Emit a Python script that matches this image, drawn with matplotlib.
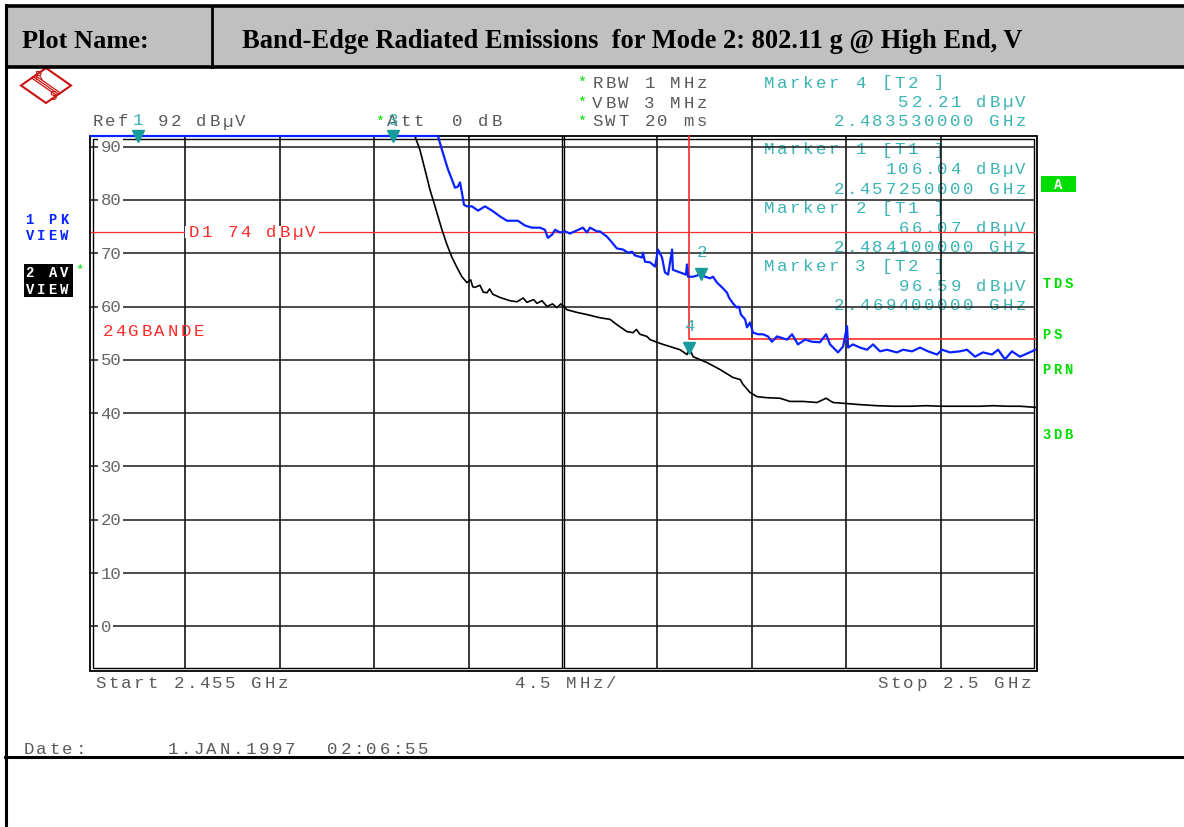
import matplotlib
matplotlib.use("Agg")
import matplotlib.pyplot as plt
from matplotlib.patches import Rectangle, Polygon
import numpy as np

# ---------------- data ----------------
start_mhz, stop_mhz = 2455.0, 2500.0
ref_level = 92.0
y_bottom = -8.0
grid_levels = [0, 10, 20, 30, 40, 50, 60, 70, 80, 90]

# trace 1: max-peak (displayed levels, clipped at the reference level)
pk_freq = [2455.00, 2471.54, 2471.73, 2471.87, 2472.02, 2472.21, 2472.35, 2472.49, 2472.59,
           2472.68, 2472.78, 2472.92, 2473.16, 2473.45, 2473.78, 2474.12, 2474.50, 2474.83,
           2475.07, 2475.35, 2475.69, 2476.02, 2476.40, 2476.64, 2476.78, 2476.98, 2477.12,
           2477.36, 2477.60, 2477.83, 2478.17, 2478.45, 2478.64, 2478.79, 2479.12, 2479.26,
           2479.60, 2479.84, 2480.07, 2480.36, 2480.60, 2480.79, 2480.93, 2481.27, 2481.31,
           2481.41, 2481.65, 2481.89, 2482.03, 2482.22, 2482.36, 2482.51, 2482.70, 2482.74,
           2483.08, 2483.36, 2483.41, 2483.46, 2483.70, 2484.10, 2484.27, 2484.51, 2484.65,
           2484.84, 2485.08, 2485.32, 2485.41, 2485.60, 2485.79, 2485.89, 2485.98, 2486.18,
           2486.27, 2486.41, 2486.56, 2486.80, 2487.03, 2487.27, 2487.46, 2487.70, 2488.18,
           2488.42, 2488.70, 2489.04, 2489.37, 2489.75, 2490.04, 2490.23, 2490.61, 2490.85,
           2491.04, 2491.09, 2491.32, 2491.66, 2491.99, 2492.28, 2492.61, 2492.94, 2493.42,
           2493.71, 2494.14, 2494.52, 2494.90, 2495.33, 2495.57, 2495.95, 2496.42, 2496.76,
           2497.14, 2497.52, 2497.95, 2498.24, 2498.57, 2498.90, 2499.28, 2499.86, 2500.00]
pk_level = [92.0, 92.0, 89.4, 87.6, 85.7, 83.8, 82.3, 82.5, 83.3,
            81.4, 79.1, 78.8, 78.8, 78.0, 78.8, 78.0, 76.9, 76.1,
            76.1, 76.1, 75.2, 74.8, 74.8, 74.4, 72.9, 73.5, 74.4,
            73.9, 74.1, 73.7, 74.3, 74.8, 73.9, 74.8, 74.1, 74.1,
            73.1, 72.0, 70.9, 70.7, 70.1, 70.3, 69.6, 69.2, 70.1,
            68.4, 68.3, 67.5, 70.7, 69.2, 66.4, 66.0, 70.7, 66.9,
            66.4, 66.0, 67.9, 65.6, 65.6, 66.07, 65.6, 65.3, 65.6,
            64.5, 63.6, 62.6, 61.7, 60.6, 59.8, 60.0, 58.5, 57.6,
            56.1, 57.0, 55.1, 54.8, 54.8, 54.4, 53.4, 54.4, 53.8,
            54.8, 52.9, 53.8, 53.4, 53.3, 54.8, 52.9, 51.4, 52.5,
            56.3, 52.3, 52.9, 52.3, 51.9, 52.9, 51.6, 51.9, 51.4,
            51.9, 51.6, 52.3, 51.6, 51.0, 51.9, 51.4, 51.6, 51.9,
            50.6, 51.4, 51.0, 51.9, 50.1, 51.6, 50.6, 51.6, 51.9]

# trace 2: average
av_freq = [2455.00, 2470.44, 2470.68, 2470.92, 2471.16, 2471.30, 2471.49, 2471.73, 2471.97,
           2472.21, 2472.45, 2472.68, 2472.92, 2473.10, 2473.20, 2473.30, 2473.54, 2473.70,
           2473.88, 2474.00, 2474.16, 2474.50, 2474.97, 2475.31, 2475.60, 2475.78, 2476.10,
           2476.26, 2476.50, 2476.74, 2477.00, 2477.21, 2477.40, 2477.69, 2478.17, 2478.64,
           2479.26, 2479.74, 2480.07, 2480.55, 2480.84, 2481.00, 2481.17, 2481.50, 2481.65,
           2481.98, 2482.27, 2482.60, 2483.08, 2483.41, 2483.53, 2483.70, 2484.36, 2484.98,
           2485.60, 2485.95, 2486.08, 2486.41, 2486.75, 2487.22, 2487.84, 2488.32, 2488.94,
           2489.61, 2490.04, 2490.37, 2491.04, 2491.66, 2492.47, 2493.23, 2494.04, 2494.85,
           2495.47, 2496.09, 2496.76, 2497.38, 2498.00, 2498.67, 2499.28, 2500.00]
av_level = [92.0, 92.0, 89.4, 85.7, 81.9, 80.1, 77.6, 74.4, 71.6,
            69.2, 67.3, 65.6, 64.5, 65.0, 63.7, 63.6, 64.0, 62.7,
            62.6, 63.3, 62.3, 61.7, 61.1, 60.9, 61.6, 60.8, 61.3,
            60.6, 61.1, 60.0, 60.5, 59.8, 60.5, 59.4, 58.9, 58.5,
            57.9, 57.6, 56.6, 55.3, 55.1, 55.7, 54.8, 54.4, 53.8,
            53.3, 52.9, 52.5, 51.9, 51.0, 52.21, 50.6, 49.5, 48.2,
            46.7, 46.3, 45.4, 43.9, 43.1, 42.9, 42.8, 42.2, 42.2,
            42.0, 42.8, 42.0, 41.8, 41.6, 41.4, 41.3, 41.3, 41.4,
            41.3, 41.3, 41.3, 41.3, 41.4, 41.3, 41.3, 41.1]

# markers: (number, trace, frequency GHz, level dBuV)
marker_ids = [1, 2, 3, 4]
marker_trace = ["T1", "T1", "T2", "T2"]
marker_freq_ghz = [2.45725, 2.48410, 2.46940, 2.48353]
marker_level = [106.04, 66.07, 96.59, 52.21]

display_line_d1 = 74.0
limit_freq = [2483.5, 2483.5, 2500.0]
limit_level = [92.0, 54.0, 54.0]

# ---------------- styling ----------------
GRAY = "#5a5a5a"
TEAL = "#3cb4b4"
TEAL_DARK = "#179b9b"
RED = "#ff2a2a"
GREEN = "#00dd00"
BLUE = "#0a22ff"
MONO = "Liberation Mono"
FS = 12.5

W, H = 1184, 828
fig = plt.figure(figsize=(W / 100, H / 100), dpi=100)
fig.patch.set_facecolor("white")

# overlay in pixel coordinates (origin top-left)
ov = fig.add_axes([0, 0, 1, 1], zorder=0)
ov.set_xlim(0, W)
ov.set_ylim(H, 0)
ov.axis("off")


def mono(x, y, s, color=GRAY, pitch=13.0, size=FS, weight="normal", ax=ov, **kw):
    """Fixed-pitch text, one glyph per cell, starting at pixel x."""
    for i, ch in enumerate(s):
        if ch == " ":
            continue
        ax.text(x + pitch * i + pitch / 2, y, ch, ha="center", va="center",
                fontsize=size, family=MONO, color=color, weight=weight, **kw)


# header row
ov.add_patch(Rectangle((5, 7), W - 5, 61, facecolor="#c0c0c0", edgecolor="none"))
ov.plot([5, W], [7, 7], color="black", lw=2.6, solid_capstyle="butt")
ov.plot([5, W], [68, 68], color="black", lw=2.6, solid_capstyle="butt")
ov.plot([212, 212], [7, 68], color="black", lw=2.0)
ov.plot([5.5, 5.5], [6, H], color="black", lw=2.2)
ov.plot([5, W], [758, 758], color="black", lw=2.2)
ov.text(22, 41, "Plot Name:", fontsize=19, family="Liberation Serif", weight="bold",
        ha="left", va="center")
ov.text(242, 41, "Band-Edge Radiated Emissions  for Mode 2: 802.11 g @ High End, V",
        fontsize=19.1, family="Liberation Serif", weight="bold", ha="left", va="center")

# R&S logo
LOGO = "#cc1111"
ov.add_patch(Polygon([(21, 86.5), (46, 69), (71, 86.5), (46, 104)], closed=True,
                     facecolor="white", edgecolor=LOGO, lw=1.5))
for off in (-1.8, 0, 1.8):
    ov.plot([33.5 + off, 58.5 + off], [77.75 - off * 0.7, 95.25 - off * 0.7], color=LOGO, lw=0.9)
ov.text(38.5, 76.5, "R", fontsize=8.5, color=LOGO, ha="center", va="center", family="DejaVu Sans")
ov.text(53, 96.5, "S", fontsize=8.5, color=LOGO, ha="center", va="center", family="DejaVu Sans")

# instrument settings
mono(91, 122, "Ref  92 dBµV")
mono(373, 122, "*", color=GREEN, size=11)
mono(386, 122, "Att  0 dB")
for yy, s in zip((83, 103, 122), ("RBW 1 MHz", "VBW 3 MHz", "SWT 20 ms")):
    mono(575, yy, "*", color=GREEN, size=11)
    mono(591, yy, s)

# marker readouts
readout_rows = [(83, 4), (150, 1), (209, 2), (267, 3)]
for y0, mid in readout_rows:
    i = marker_ids.index(mid)
    mono(763, y0, f"Marker {mid} [{marker_trace[i]} ]", color=TEAL)
    lev = f"{marker_level[i]:.2f} dBµV"
    mono(1027 - 13 * len(lev), y0 + 19.5, lev, color=TEAL)
    fr = f"{marker_freq_ghz[i]:.9f} GHz"
    mono(1027 - 13 * len(fr), y0 + 39, fr, color=TEAL)

# trace labels on the left
mono(24, 220, "1 PK", color=BLUE, pitch=11.5, size=10, weight="bold")
mono(24, 236, "VIEW", color=BLUE, pitch=11.5, size=10, weight="bold")
ov.add_patch(Rectangle((24, 265), 49, 33, facecolor="black", edgecolor="none"))
mono(24, 273, "2 AV", color="white", pitch=11.5, size=10, weight="bold")
mono(24, 290, "VIEW", color="white", pitch=11.5, size=10, weight="bold")
mono(74, 271, "*", color=GREEN, pitch=11.5, size=10)

# status labels on the right
ov.add_patch(Rectangle((1041, 177), 35, 16, facecolor=GREEN, edgecolor="none"))
ov.text(1058.5, 185, "A", color="white", fontsize=10, weight="bold", family=MONO,
        ha="center", va="center")
for yy, s in ((284, "TDS"), (335, "PS"), (370, "PRN"), (435, "3DB")):
    mono(1041, yy, s, color=GREEN, pitch=11, size=10, weight="bold")

# frequency axis annotations and date
mono(94, 684, "Start 2.455 GHz")
mono(513, 684, "4.5 MHz/")
mono(876, 684, "Stop 2.5 GHz")
mono(22, 750, "Date:")
mono(166, 750, "1.JAN.1997")
mono(326, 750, "02:06:55")

# double frame around the screen
ov.add_patch(Rectangle((89.5, 136.5), 947, 535, fill=False, edgecolor="black", lw=1.3))
ov.add_patch(Rectangle((92.5, 139.5), 941, 529, fill=False, edgecolor="black", lw=1.0))

# ---------------- spectrum axes ----------------
ax = fig.add_axes([91 / W, (H - 670) / H, 944 / W, 533 / H], zorder=1)
ax.patch.set_alpha(0)
ax.set_xlim(start_mhz, stop_mhz)
ax.set_ylim(y_bottom, ref_level)
for sp in ax.spines.values():
    sp.set_visible(False)
ax.set_xticks([])
ax.set_yticks([])

div = (stop_mhz - start_mhz) / 10
px_mhz = (stop_mhz - start_mhz) / 944
for k in range(1, 10):
    f = start_mhz + k * div
    if k == 5:
        for d in (-1.4, 1.4):
            ax.axvline(f + d * px_mhz, color="black", lw=1.0, zorder=1)
    else:
        ax.axvline(f, color="black", lw=1.1, zorder=1)
for lv in grid_levels:
    ax.axhline(lv, color="#1a1a1a", lw=1.1, zorder=1)
    ax.text(start_mhz + 9.5 * px_mhz, lv, str(lv), ha="left", va="center", fontsize=FS,
            family=MONO, color="#666666", zorder=2,
            bbox=dict(facecolor="white", edgecolor="none", pad=1.5))

# display line D1 and limit line
ax.axhline(display_line_d1, color=RED, lw=0.9, zorder=2)
d1_label = f"D1 {display_line_d1:.0f} dBµV"
x0 = start_mhz + 96 * px_mhz
ax.add_patch(Rectangle((x0 - 2 * px_mhz, display_line_d1 - 1.2), (13 * len(d1_label) + 4) * px_mhz,
                       2.4, facecolor="white", edgecolor="none", zorder=2.5))
for i, ch in enumerate(d1_label):
    if ch != " ":
        ax.text(x0 + (13 * i + 6.5) * px_mhz, display_line_d1, ch, ha="center", va="center",
                fontsize=FS, family=MONO, color=RED, zorder=3)
ax.plot(limit_freq, limit_level, color=RED, lw=1.2, zorder=3, clip_on=False)
label = "24GBANDE"
for i, ch in enumerate(label):
    ax.text(start_mhz + (10 + 13 * i + 6.5) * px_mhz, 55.5, ch, ha="center", va="center",
            fontsize=FS, family=MONO, color=RED, zorder=3)

# traces
ax.plot(av_freq, np.minimum(av_level, ref_level), color="black", lw=1.2, zorder=4, clip_on=False)
ax.plot(pk_freq, np.minimum(pk_level, ref_level), color=BLUE, lw=1.6, zorder=5, clip_on=False)

# markers
for mid, fg, lv in zip(marker_ids, marker_freq_ghz, marker_level):
    f = fg * 1000
    lv_d = min(lv, ref_level)
    ax.plot([f], [lv_d], marker="v", markersize=8.5, color=TEAL_DARK, zorder=6, clip_on=False)
    dy = 16 if lv < ref_level else 12
    ax.annotate(str(mid), (f, lv_d), xytext=(0, dy), textcoords="offset points",
                ha="center", va="center", fontsize=FS, family=MONO, color=TEAL, zorder=6,
                annotation_clip=False)

fig.savefig("out.png", dpi=100)
